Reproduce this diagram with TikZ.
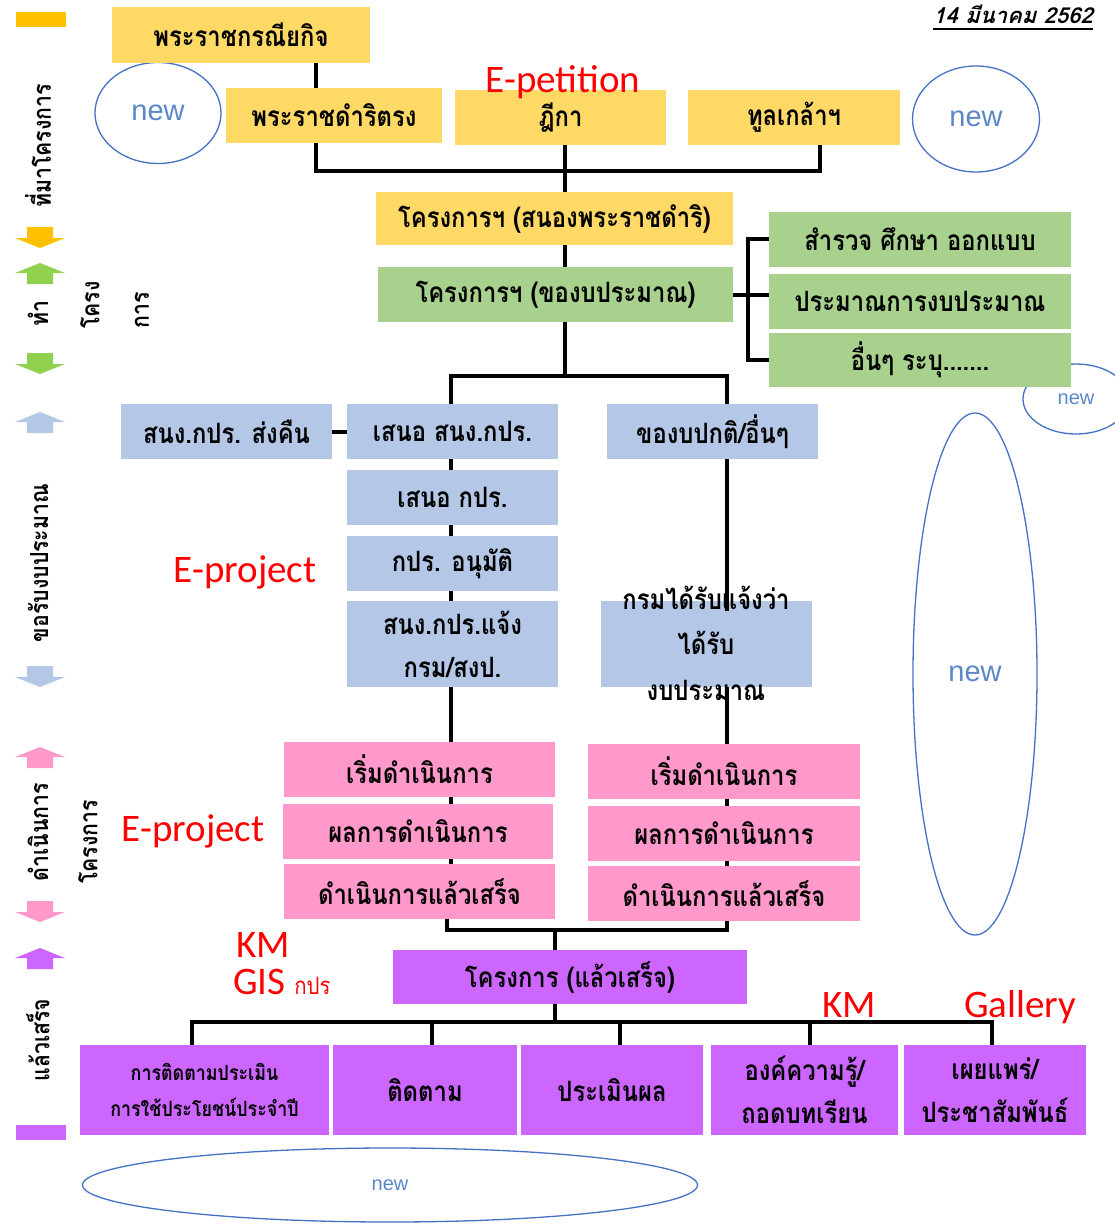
\documentclass[tikz,border=0pt]{standalone}
\usepackage{fontspec}
\usetikzlibrary{shapes.geometric}
\newfontfamily\thai[Script=Thai,FakeStretch=0.85]{Loma}
\newfontfamily\thaislant[Script=Thai,FakeSlant=0.25]{Loma}
\newfontfamily\lblfont{Carlito}
\newfontfamily\ellfont{Liberation Sans}
\newcommand{\thaibox}{\thai\bfseries\fontsize{28}{43}\selectfont}
\newcommand{\thaiside}{\thai\bfseries\fontsize{25}{30}\selectfont}
\newcommand{\sbUp}[3]{\fill[#3] (#1,#2) -- (#1+25,#2+10) -- (#1+13,#2+10) -- (#1+13,#2+21) -- (#1-13,#2+21) -- (#1-13,#2+10) -- (#1-25,#2+10) -- cycle;}
\newcommand{\sbDown}[3]{\fill[#3] (#1-13,#2) -- (#1+13,#2) -- (#1+13,#2+11) -- (#1+25,#2+11) -- (#1,#2+21) -- (#1-25,#2+11) -- (#1-13,#2+11) -- cycle;}
\definecolor{yel}{HTML}{FFD966}
\definecolor{grn}{HTML}{A9D18E}
\definecolor{blu}{HTML}{B4C7E7}
\definecolor{pnk}{HTML}{FF99CC}
\definecolor{prp}{HTML}{CC66FF}
\definecolor{orgarr}{HTML}{FFC000}
\definecolor{grnarr}{HTML}{92D050}
\definecolor{ellblue}{HTML}{4472C4}
\definecolor{newtext}{HTML}{5B87C9}
\begin{document}
\begin{tikzpicture}[x=1pt,y=-1pt,
  conn/.style={line width=4pt, black, line join=miter},
  box/.style={rectangle, inner sep=0pt, outer sep=0pt, align=center, font=\thaibox, text=black},
  ybox/.style={box, fill=yel},
  gbox/.style={box, fill=grn},
  bbox/.style={box, fill=blu},
  pbox/.style={box, fill=pnk},
  vbox/.style={box, fill=prp},
  redlbl/.style={inner sep=0pt, text=red, font=\lblfont\fontsize{39}{44}\selectfont, anchor=base},
  sidetxt/.style={inner sep=0pt, rotate=90, font=\thaiside},
  newell/.style={ellipse, draw=ellblue, line width=1.3pt, inner sep=0pt, text=newtext, font=\ellfont\fontsize{29}{32}\selectfont},
  newsmall/.style={newell, font=\ellfont\fontsize{20}{24}\selectfont}
]
\useasboundingbox (0,0) rectangle (1114,1225);
\fill[white] (0,0) rectangle (1114,1225);

% ---------- left sidebar ----------
\fill[orgarr] (16,12) rectangle (66,27);
\node[sidetxt] (s1) at (38,146) {ที่มาโครงการ};
\sbDown{40}{227}{orgarr}
\sbUp{40}{263}{grnarr}
\node[sidetxt] (s2a) at (38,314) {ทำ};
\node[sidetxt] (s2b) at (90,305) {โครง};
\node[sidetxt] (s2c) at (142,310) {การ};
\sbDown{40}{353}{grnarr}
\sbUp{40}{412}{blu}
\node[sidetxt] (s3) at (38,563) {ขอรับงบประมาณ};
\sbDown{40}{666}{blu}
\sbUp{40}{747}{pnk}
\node[sidetxt] (s4a) at (38,832) {ดำเนินการ};
\node[sidetxt] (s4b) at (88,842) {โครงการ};
\sbDown{40}{901}{pnk}
\sbUp{40}{948}{prp}
\node[sidetxt] (s5) at (38,1040) {แล้วเสร็จ};
\fill[prp] (16,1125) rectangle (66,1140);

% ---------- date ----------
\node[inner sep=0pt, anchor=base east, font=\thaislant\bfseries\fontsize{22}{26}\selectfont] (date) at (1093,24) {14 มีนาคม 2562};
\draw[line width=1.3pt] ([yshift=-5pt]date.base west) -- ([yshift=-5pt]date.base east);

% ---------- new ellipses ----------
\node[newell, minimum width=126, minimum height=101] (n1) at (158,113) {new};
\node[newell, minimum width=127, minimum height=106] (n2) at (976,119) {new};
\node[newsmall, minimum width=106, minimum height=70] (n3) at (1076,399) {new};
\node[newell, minimum width=124, minimum height=522] (n4) at (975,674) {new};
\node[newsmall, minimum width=615, minimum height=74] (n5) at (390,1185) {new};

% ---------- top row ----------
\node[ybox, minimum width=258, minimum height=56] (A) at (241,35) {พระราชกรณียกิจ};
\node[ybox, minimum width=216, minimum height=55] (B) at (334,115.5) {พระราชดำริตรง};
\node[ybox, minimum width=211, minimum height=55] (C) at (560.5,117.5) {ฎีกา};
\node[ybox, minimum width=212, minimum height=55] (D) at (794,117.5) {ทูลเกล้าฯ};
\node[ybox, minimum width=357, minimum height=53] (E) at (554.5,218.5) {โครงการฯ (สนองพระราชดำริ)};
\node[gbox, minimum width=355, minimum height=55] (F) at (555.5,294.5) {โครงการฯ (ของบประมาณ)};
\node[gbox, minimum width=302, minimum height=55] (G1) at (920,239) {สำรวจ ศึกษา ออกแบบ};
\node[gbox, minimum width=302, minimum height=55] (G2) at (920,301.5) {ประมาณการงบประมาณ};
\node[gbox, minimum width=302, minimum height=54] (G3) at (920,360) {อื่นๆ ระบุ.......};

% ---------- blue ----------
\node[bbox, minimum width=211, minimum height=55] (H1) at (226.5,431.5) {สนง.กปร. ส่งคืน};
\node[bbox, minimum width=211, minimum height=55] (H2) at (452.5,431.5) {เสนอ สนง.กปร.};
\node[bbox, minimum width=211, minimum height=55] (H3) at (712.5,431.5) {ของบปกติ/อื่นๆ};
\node[bbox, minimum width=211, minimum height=55] (H4) at (452.5,497.5) {เสนอ กปร.};
\node[bbox, minimum width=211, minimum height=55] (H5) at (452.5,563.5) {กปร. อนุมัติ};
\node[bbox, minimum width=211, minimum height=86] (H6) at (452.5,644) {สนง.กปร.แจ้ง\\กรม/สงป.};
\node[bbox, minimum width=211, minimum height=86] (H7) at (706.5,644) {};

% ---------- pink ----------
\node[pbox, minimum width=271, minimum height=55] (P1) at (419.5,769.5) {เริ่มดำเนินการ};
\node[pbox, minimum width=270, minimum height=55] (P2) at (418,831.5) {ผลการดำเนินการ};
\node[pbox, minimum width=271, minimum height=55] (P3) at (419.5,891.5) {ดำเนินการแล้วเสร็จ};
\node[pbox, minimum width=272, minimum height=55] (P4) at (724,771.5) {เริ่มดำเนินการ};
\node[pbox, minimum width=272, minimum height=55] (P5) at (724,833.5) {ผลการดำเนินการ};
\node[pbox, minimum width=272, minimum height=55] (P6) at (724,893.5) {ดำเนินการแล้วเสร็จ};

% ---------- purple ----------
\node[vbox, minimum width=354, minimum height=54] (Q) at (570,977) {โครงการ (แล้วเสร็จ)};
\node[vbox, minimum width=249, minimum height=90, font=\thai\bfseries\fontsize{21}{36}\selectfont] (R1) at (204.5,1090) {การติดตามประเมิน\\การใช้ประโยชน์ประจำปี};
\node[vbox, minimum width=184, minimum height=90] (R2) at (425,1090) {ติดตาม};
\node[vbox, minimum width=182, minimum height=90] (R3) at (612,1090) {ประเมินผล};
\node[vbox, minimum width=187, minimum height=90] (R4) at (804.5,1090) {องค์ความรู้/\\ถอดบทเรียน};
\node[vbox, minimum width=182, minimum height=90] (R5) at (995,1090) {เผยแพร่/\\ประชาสัมพันธ์};

% ---------- connector coordinates ----------
\coordinate (xA) at (316,0);
\coordinate (xC) at (565,0);
\coordinate (xD) at (820,0);
\coordinate (xB) at (748,0);
\coordinate (xL) at (451,0);
\coordinate (xR) at (727,0);
\coordinate (xL2) at (447,0);
\coordinate (xQ) at (555,0);
\coordinate (xr1) at (192,0);
\coordinate (xr2) at (432,0);
\coordinate (xr3) at (620,0);
\coordinate (xr4) at (810,0);
\coordinate (xr5) at (992,0);
\coordinate (hTop) at (0,171);
\coordinate (hMid) at (0,376);
\coordinate (hLow) at (0,930);
\coordinate (hBot) at (0,1022);

% ---------- connectors ----------
\draw[conn] (A.south -| xA) -- (B.north -| xA);
\draw[conn] (B.south -| xA) |- (hTop -| xD) -- (D.south -| xD);
\draw[conn] (C.south -| xC) -- (E.north -| xC);
\draw[conn] (E.south -| xC) -- (F.north -| xC);
\draw[conn] (F.south -| xC) -- (hMid -| xC);
\draw[conn] (F.east) -- (F.east -| G2.west);
\draw[conn] (G1.west) -- (G1.west -| xB) -- (G3.west -| xB) -- (G3.west);
\draw[conn] (H2.north -| xL) |- (hMid -| xR) -- (H3.north -| xR);
\draw[conn] (H1.east) -- (H2.west);
\draw[conn] (H2.south -| xL) -- (H4.north -| xL);
\draw[conn] (H4.south -| xL) -- (H5.north -| xL);
\draw[conn] (H5.south -| xL) -- (H6.north -| xL);
\draw[conn] (H6.south -| xL) -- (P1.north -| xL);
\draw[conn] (P1.south -| xL) -- (P2.north -| xL);
\draw[conn] (P2.south -| xL) -- (P3.north -| xL);
\draw[conn] (H3.south -| xR) -- ([yshift=-10pt]H7.north -| xR);
\draw[conn] (H7.south -| xR) -- (P4.north -| xR);
\draw[conn] (P4.south -| xR) -- (P5.north -| xR);
\draw[conn] (P5.south -| xR) -- (P6.north -| xR);
\draw[conn] (P3.south -| xL2) |- (hLow -| xR) -- (P6.south -| xR);
\draw[conn] (hLow -| xQ) -- (Q.north -| xQ);
\draw[conn] (Q.south -| xQ) -- (hBot -| xQ);
\draw[conn] (R1.north -| xr1) |- (hBot -| xr5) -- (R5.north -| xr5);
\draw[conn] (hBot -| xr2) -- (R2.north -| xr2);
\draw[conn] (hBot -| xr3) -- (R3.north -| xr3);
\draw[conn] (hBot -| xr4) -- (R4.north -| xr4);

% ---------- overflowing text of H7 ----------
\node[inner sep=0pt, font=\thaibox] (h7a) at (706,598) {กรมได้รับแจ้งว่า};
\node[inner sep=0pt, font=\thaibox] (h7b) at (706,643) {ได้รับ};
\node[inner sep=0pt, font=\thaibox] (h7c) at (706,690) {งบประมาณ};

% ---------- red labels ----------
\node[redlbl] (l1) at (563,93) {E-petition};
\node[redlbl] (l2) at (245,582) {E-project};
\node[redlbl] (l3) at (193,841) {E-project};
\node[redlbl] (l4) at (263,957) {KM};
\node[redlbl, anchor=base west] (l5) at (233,994) {GIS {\thai\fontsize{24}{28}\selectfont กปร}};
\node[redlbl] (l6) at (849,1017) {KM};
\node[redlbl] (l7) at (1020,1017) {Gallery};
\end{tikzpicture}
\end{document}
